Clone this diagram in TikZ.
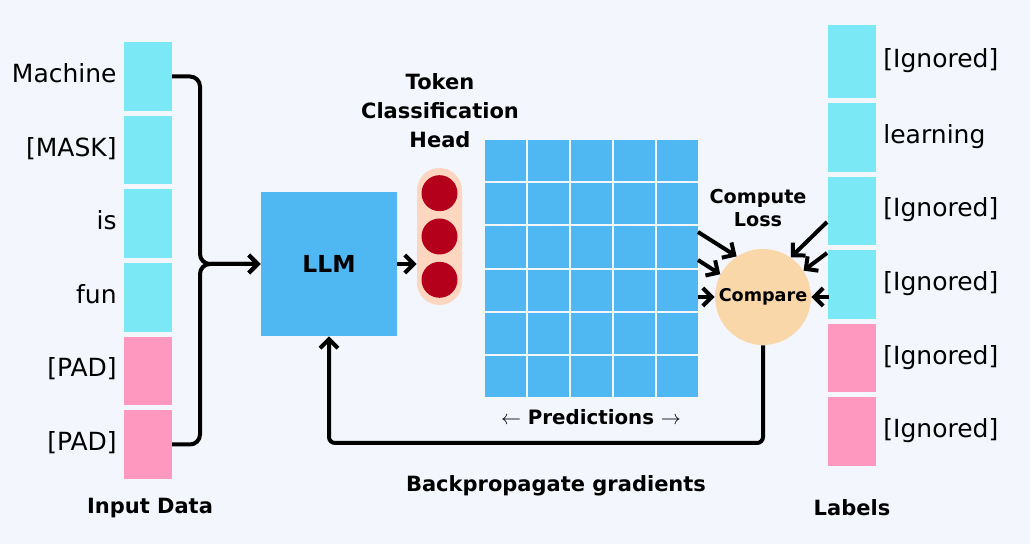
\documentclass[tikz,border=0pt]{standalone}
\usepackage{fontspec}
\setmainfont{DejaVu Sans}
\usetikzlibrary{arrows.meta, calc, positioning}
\definecolor{bgcol}{HTML}{F3F6FD}
\definecolor{tokcyan}{HTML}{7BE9F5}
\definecolor{tokpink}{HTML}{FF98BE}
\definecolor{llmblue}{HTML}{4FB8F2}
\definecolor{headpeach}{HTML}{FCD6BF}
\definecolor{cmppeach}{HTML}{FAD7A9}
\definecolor{neuron}{HTML}{B5001C}
\tikzstyle{token} = [rectangle, minimum width=24pt, minimum height=34.3pt, inner sep=0pt, outer sep=0pt, fill=tokcyan]
\tikzstyle{padtoken} = [token, fill=tokpink]
\tikzstyle{word} = [inner sep=0pt, text height=9pt, text depth=3pt, font=\fontsize{12.5}{15}\selectfont]
\tikzstyle{title} = [inner sep=0pt, align=center, font=\bfseries\fontsize{10.5}{14.5}\selectfont]
\tikzstyle{neuronnode} = [circle, minimum size=18pt, inner sep=0pt, fill=neuron]
\tikzstyle{arrow} = [line width=2pt, ->, >={Straight Barb[length=4.5pt,width=9pt]}]

\begin{document}
\begin{tikzpicture}[x=0.5pt, y=-0.5pt]

\fill[bgcol] (0,0) rectangle (1030,544);

% Input tokens
\node (in1) [token] at (148,76.5) {};
\node (in2) [token, below=2.5pt of in1] {};
\node (in3) [token, below=2.5pt of in2] {};
\node (in4) [token, below=2.5pt of in3] {};
\node (in5) [padtoken, below=2.5pt of in4] {};
\node (in6) [padtoken, below=2.5pt of in5] {};

\node (w1) [word, left=3.5pt of in1] {Machine};
\node (w2) [word, left=3.5pt of in2] {[MASK]};
\node (w3) [word, left=3.5pt of in3] {is};
\node (w4) [word, left=3.5pt of in4] {fun};
\node (w5) [word, left=3.5pt of in5] {[PAD]};
\node (w6) [word, left=3.5pt of in6] {[PAD]};
\node (input) [title] at (150,508) {Input Data};

% Model
\node (llm) [rectangle, fill=llmblue, minimum width=68pt, minimum height=72pt, font=\bfseries\fontsize{11.7}{14}\selectfont] at (329,264) {LLM};

\node (head) [rectangle, rounded corners=11.25pt, fill=headpeach, minimum width=22.5pt, minimum height=68.5pt] at (439.5,236.5) {};
\node (h2) [neuronnode] at (head) {};
\node (h1) [neuronnode, above=3.25pt of h2] {};
\node (h3) [neuronnode, below=3.25pt of h2] {};
\node (headtitle) [title] at (440,111) {Token\\Classification\\Head};

% Predictions grid
\foreach \c in {0,...,4}
  \foreach \r in {0,...,5}
    \fill[llmblue] ({485+\c*43}, {140+\r*43.2}) rectangle ++(41,41.2);
\node (pred) [title, font=\bfseries\fontsize{9.9}{12}\selectfont] at (591,417) {$\leftarrow$ Predictions $\rightarrow$};

% Loss
\node (cmp) [circle, fill=cmppeach, minimum size=48pt, inner sep=0pt, font=\bfseries\fontsize{8.8}{10}\selectfont] at (763,297) {Compare};
\node (loss) [title, font=\bfseries\fontsize{9.6}{11.5}\selectfont] at (758,208.5) {Compute\\Loss};

% Labels
\node (lab1) [token, minimum height=36.5pt] at (852,61.5) {};
\node (lab2) [token, below=2.5pt of lab1] {};
\node (lab3) [token, below=2.5pt of lab2] {};
\node (lab4) [token, below=2.5pt of lab3] {};
\node (lab5) [padtoken, below=2.5pt of lab4] {};
\node (lab6) [padtoken, below=2.5pt of lab5] {};

\node (t1) [word, right=3.5pt of lab1] {[Ignored]};
\node (t2) [word, right=3.5pt of lab2] {learning};
\node (t3) [word, right=3.5pt of lab3] {[Ignored]};
\node (t4) [word, right=3.5pt of lab4] {[Ignored]};
\node (t5) [word, right=3.5pt of lab5] {[Ignored]};
\node (t6) [word, right=3.5pt of lab6] {[Ignored]};
\node (labels) [title] at (852,508) {Labels};

% Arrows
\coordinate (brace) at (200,264);
\draw [arrow, rounded corners=5pt] (in1.east) -| (brace) -- (llm.west);
\draw [arrow, rounded corners=5pt] (in6.east) -| (brace) -- (llm.west);
\draw [arrow] (llm.east) -- (head.west |- llm.east);

\coordinate (pl1) at (698,232);
\coordinate (pl2) at (698,260);
\coordinate (pl3) at (698,297);
\coordinate (lb1) at (827,222);
\coordinate (lb2) at (827,253);
\coordinate (lb3) at (829,297);
\draw [arrow] (pl1) -- (cmp.123);
\draw [arrow] (pl2) -- (cmp.152);
\draw [arrow] (pl3) -- (cmp.west);
\draw [arrow] (lb1) -- (cmp.55);
\draw [arrow] (lb2) -- (cmp.33);
\draw [arrow] (lb3) -- (cmp.east);

% Backpropagation
\coordinate (bp) at (329,443);
\draw [arrow, rounded corners=3pt] (cmp.south) |- (bp) -- (llm.south);
\node (backprop) [title] at (556,486) {Backpropagate gradients};

\end{tikzpicture}
\end{document}
